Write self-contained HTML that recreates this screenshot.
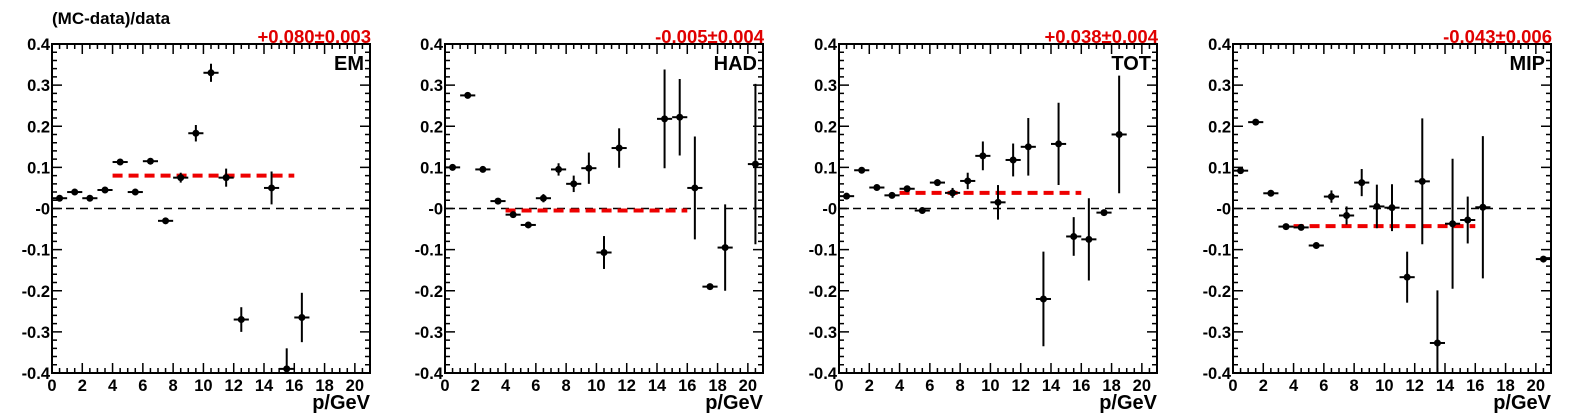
<!DOCTYPE html>
<html><head><meta charset="utf-8"><style>
html,body{margin:0;padding:0;background:#fff;}
svg{display:block;font-family:"Liberation Sans",Arial,sans-serif;font-weight:bold;}
</style></head><body>
<svg id="chart" width="1575" height="419" viewBox="0 0 1575 419" xmlns="http://www.w3.org/2000/svg">
<text x="52" y="24" font-size="17">(MC-data)/data</text>
</svg>
<script>
const panelNames = ["EM","HAD","TOT","MIP"];
const fitLabels = ["+0.080\u00b10.003","-0.005\u00b10.004","+0.038\u00b10.004","-0.043\u00b10.006"];
const fitValues = [0.080,-0.005,0.038,-0.043];
const fitRange = [4,16];
const xTicks = [0,2,4,6,8,10,12,14,16,18,20];
const yTicks = [0.4,0.3,0.2,0.1,0,-0.1,-0.2,-0.3,-0.4];
const yTickLabels = ["0.4","0.3","0.2","0.1","-0","-0.1","-0.2","-0.3","-0.4"];
const emX = [0.5,1.5,2.5,3.5,4.5,5.5,6.5,7.5,8.5,9.5,10.5,11.5,12.5,14.5,15.5,16.5];
const emY = [0.025,0.04,0.025,0.045,0.113,0.04,0.115,-0.03,0.075,0.183,0.33,0.075,-0.27,0.05,-0.39,-0.265];
const emE = [0.005,0.005,0.005,0.004,0.004,0.004,0.004,0.005,0.012,0.02,0.022,0.022,0.03,0.04,0.05,0.06];
const hadX = [0.5,1.5,2.5,3.5,4.5,5.5,6.5,7.5,8.5,9.5,10.5,11.5,14.5,15.5,16.5,17.5,18.5,20.5];
const hadY = [0.10,0.275,0.095,0.018,-0.015,-0.04,0.025,0.095,0.06,0.098,-0.107,0.147,0.218,0.222,0.05,-0.19,-0.095,0.108];
const hadE = [0.004,0.004,0.004,0.004,0.005,0.005,0.01,0.015,0.02,0.038,0.04,0.048,0.12,0.093,0.125,0.003,0.105,0.195];
const totX = [0.5,1.5,2.5,3.5,4.5,5.5,6.5,7.5,8.5,9.5,10.5,11.5,12.5,13.5,14.5,15.5,16.5,17.5,18.5];
const totY = [0.03,0.093,0.051,0.032,0.048,-0.005,0.063,0.038,0.067,0.128,0.015,0.118,0.15,-0.22,0.157,-0.068,-0.075,-0.01,0.18];
const totE = [0.004,0.004,0.004,0.004,0.005,0.005,0.008,0.012,0.02,0.035,0.042,0.04,0.07,0.115,0.1,0.047,0.1,0.004,0.143];
const mipX = [0.5,1.5,2.5,3.5,4.5,5.5,6.5,7.5,8.5,9.5,10.5,11.5,12.5,13.5,14.5,15.5,16.5,20.5];
const mipY = [0.092,0.21,0.037,-0.044,-0.046,-0.09,0.029,-0.017,0.063,0.005,0.002,-0.167,0.066,-0.327,-0.037,-0.028,0.003,-0.123];
const mipE = [0.004,0.004,0.004,0.004,0.005,0.006,0.015,0.022,0.033,0.053,0.057,0.062,0.153,0.128,0.158,0.057,0.173,0.004];
const seriesX = [emX,hadX,totX,mipX], seriesY=[emY,hadY,totY,mipY], seriesE=[emE,hadE,totE,mipE];

const NS="http://www.w3.org/2000/svg";
const svg=document.getElementById('chart');
const lefts=[52,445,839,1233], W=318, TOP=44, BOT=373, XMAX=21;
function mk(tag,attrs,parent){const e=document.createElementNS(NS,tag);for(const k in attrs)e.setAttribute(k,attrs[k]);(parent||svg).appendChild(e);return e;}
for(let p=0;p<4;p++){
  const L=lefts[p], R=L+W;
  const sx=v=>L+v/XMAX*W;
  const sy=v=>TOP+(0.4-v)/0.8*(BOT-TOP);
  const g=mk('g',{});
  
  
  const fr=mk('rect',{x:L,y:TOP,width:W,height:BOT-TOP,fill:'none',stroke:'#000','stroke-width':2},g);
  
  
  let d='';
  for(let v=0;v<=XMAX+1e-9;v+=0.5){const x=sx(v);const len=(Math.abs(v/2-Math.round(v/2))<1e-9)?10:5;d+=`M${x},${BOT}v${-len}M${x},${TOP}v${len}`;}
  for(let i=0;i<=40;i++){const v=-0.4+i*0.02;const y=sy(v);const len=(i%5===0)?10:5;d+=`M${L},${y}h${len}M${R},${y}h${-len}`;}
  const tk=mk('path',{d:d,stroke:'#000','stroke-width':1.5,fill:'none'},g);
  
  
  xTicks.forEach(v=>{const t=mk('text',{x:sx(v),y:BOT+18,'font-size':16.5,'text-anchor':'middle'},g);t.textContent=v;
    
    });
  yTicks.forEach((v,i)=>{const t=mk('text',{x:L-2,y:sy(v)+6,'font-size':16.5,'text-anchor':'end'},g);t.textContent=yTickLabels[i];
    
    });
  const xt=mk('text',{x:R,y:409,'font-size':20,'text-anchor':'end'},g);xt.textContent='p/GeV';
  
  
  const fl=mk('text',{x:R+1,y:43,'font-size':18.5,'text-anchor':'end',fill:'#e00000'},g);fl.textContent=fitLabels[p];
  
  
  const pn=mk('text',{x:R-6,y:70,'font-size':20,'text-anchor':'end'},g);pn.textContent=panelNames[p];
  
  
  const z=mk('line',{x1:L,x2:R,y1:sy(0),y2:sy(0),stroke:'#000','stroke-width':1.5,'stroke-dasharray':'8,6'},g);
  
  
  const f=mk('line',{x1:sx(fitRange[0]),x2:sx(fitRange[1]),y1:sy(fitValues[p]),y2:sy(fitValues[p]),stroke:'#ee0000','stroke-width':4,'stroke-dasharray':'10,6'},g);
  
  
  const cp=mk('clipPath',{id:'clip'+p},g);mk('rect',{x:L,y:TOP,width:W,height:BOT-TOP},cp);
  const pg=mk('g',{'clip-path':`url(#clip${p})`},g);
  seriesX[p].forEach((xv,i)=>{
    const yv=seriesY[p][i], e=seriesE[p][i];
    const pt=mk('g',{},pg);
    
    
    mk('line',{x1:sx(xv-0.5),x2:sx(xv+0.5),y1:sy(yv),y2:sy(yv),stroke:'#000','stroke-width':2},pt);
    mk('line',{x1:sx(xv),x2:sx(xv),y1:sy(yv+e),y2:sy(yv-e),stroke:'#000','stroke-width':2},pt);
    mk('circle',{cx:sx(xv),cy:sy(yv),r:3.5,fill:'#000'},pt);
  });
}
</script>
</body></html>
